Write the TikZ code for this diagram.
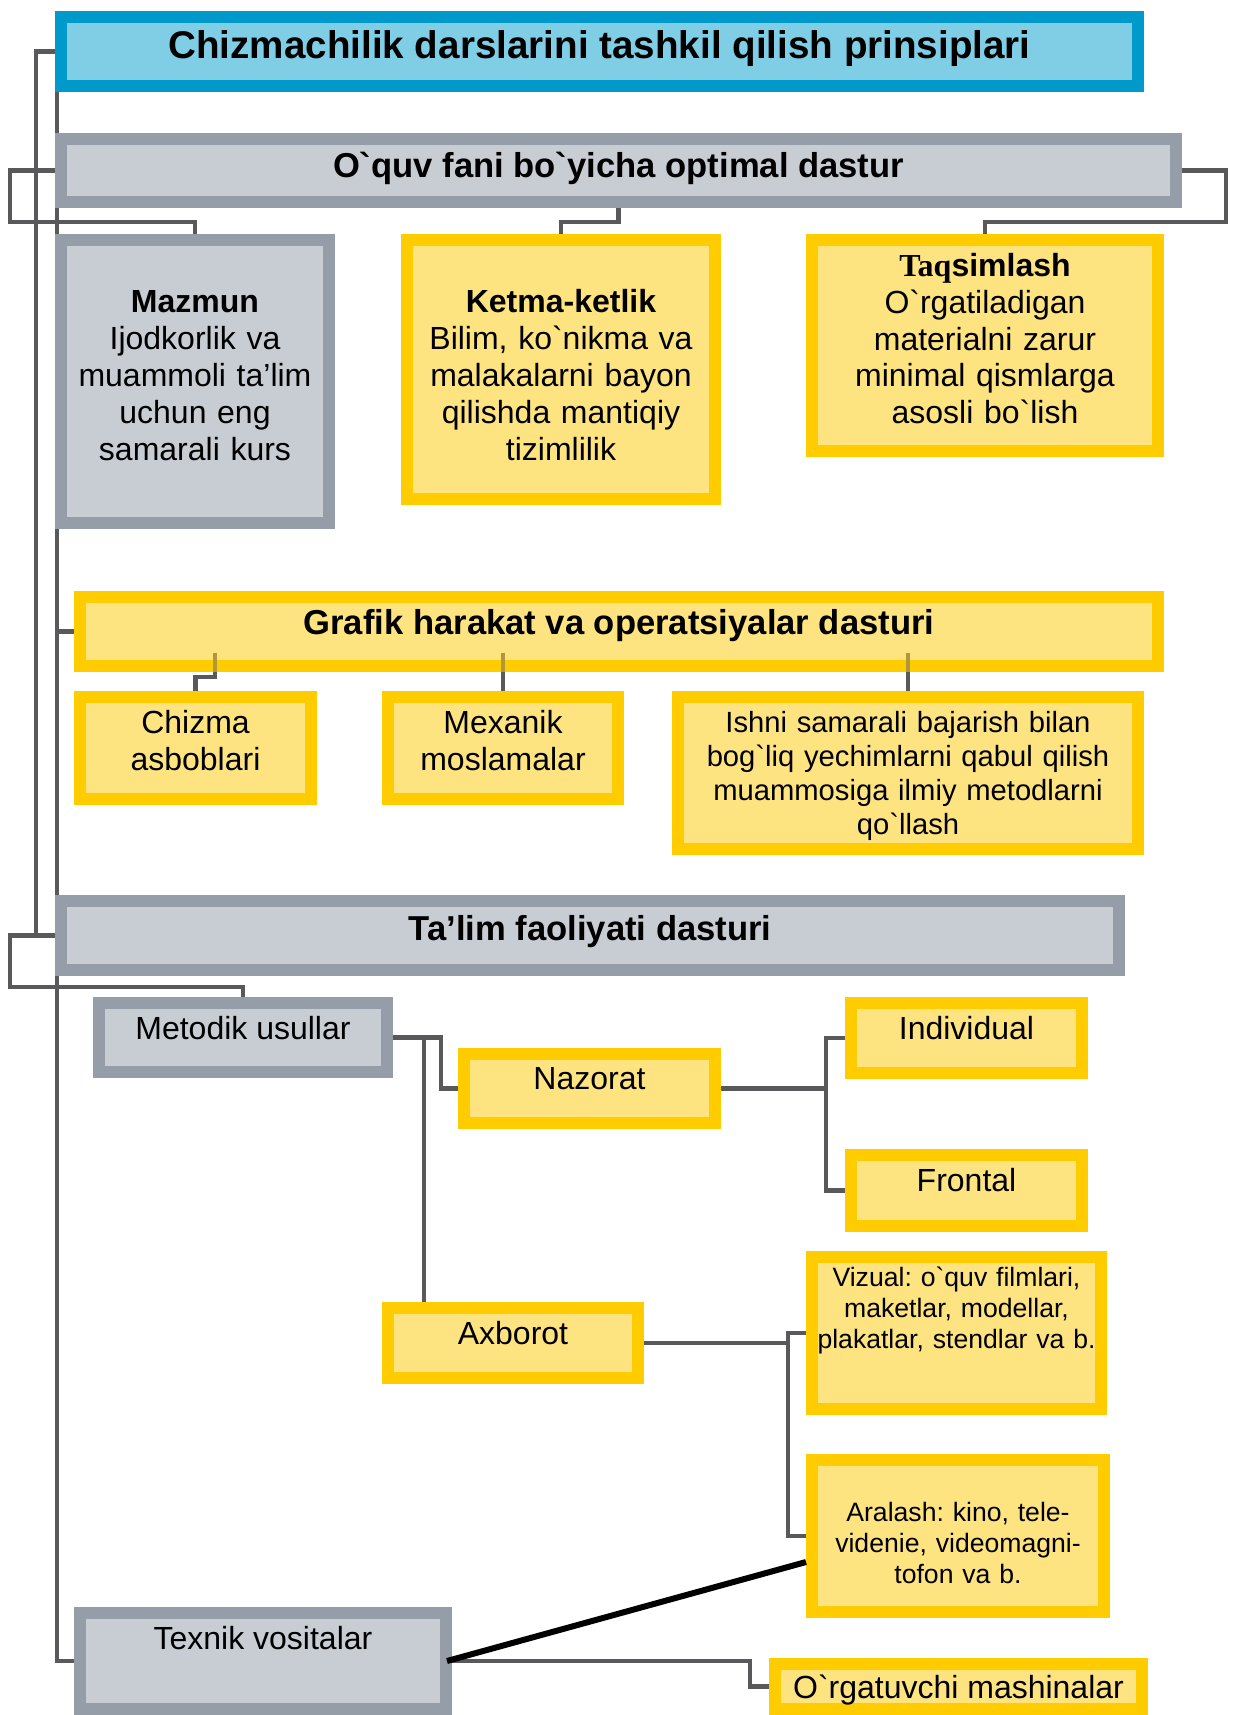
\documentclass[tikz,border=0pt]{standalone}
\usepackage{fontspec}
\setmainfont{Liberation Sans}[Ligatures=TeXOff]
\newfontfamily\serifbold{Liberation Serif}[Ligatures=TeXOff]
\usetikzlibrary{backgrounds}
\frenchspacing

\definecolor{titleblue}{HTML}{0099CC}
\definecolor{titlefill}{HTML}{80CDE6}
\definecolor{boxgrey}{HTML}{959EA8}
\definecolor{greyfill}{HTML}{C8CDD4}
\definecolor{boxyellow}{HTML}{FFCC00}
\definecolor{yellowfill}{HTML}{FEE381}
\definecolor{linegrey}{HTML}{59595B}
\definecolor{stubolive}{HTML}{B09838}

\newcommand{\sizeTitle}{\fontsize{19.3}{22}\selectfont\bfseries}
\newcommand{\sizeHead}{\fontsize{17.3}{20}\selectfont\bfseries}
\newcommand{\sizeBody}{\fontsize{16}{18.4}\selectfont}
\newcommand{\sizeNote}{\fontsize{14.6}{16.9}\selectfont}
\newcommand{\sizeSmall}{\fontsize{13.3}{15.3}\selectfont}

\begin{document}
\begin{tikzpicture}[x=0.5pt, y=-0.5pt,
    box/.style={draw, line width=6pt, inner sep=0pt, align=center},
    bluebox/.style={box, draw=titleblue, fill=titlefill},
    greybox/.style={box, draw=boxgrey, fill=greyfill},
    yellowbox/.style={box, draw=boxyellow, fill=yellowfill},
    link/.style={draw=linegrey, line width=2.4pt},
    stub/.style={draw=stubolive, line width=2.4pt}]
  \useasboundingbox (0,0) rectangle (1237,1715);

  % upper part
  \node[bluebox, font=\sizeTitle, minimum width=538.5pt, minimum height=34.5pt, text height=14pt, text depth=7.5pt] (title) at (599.5,51.5) {Chizmachilik darslarini tashkil qilish prinsiplari};
  \node[greybox, font=\sizeHead, minimum width=557.5pt, minimum height=31.5pt, text height=12.4pt, text depth=5pt] (oquv) at (618.5,170.5) {O`quv fani bo`yicha optimal dastur};
  \node[greybox, font=\sizeBody, text width=134pt, minimum height=141.5pt, text height=11.5pt, text depth=80.1pt] (mazmun) at (195,381.5) {\textbf{Mazmun}\\Ijodkorlik va\\muammoli ta’lim\\uchun eng\\samarali kurs};
  \node[yellowbox, font=\sizeBody, text width=154pt, minimum height=129.5pt, text height=11.5pt, text depth=68.1pt] (ketma) at (561,369.5) {\textbf{Ketma-ketlik}\\Bilim, ko`nikma va\\malakalarni bayon\\qilishda mantiqiy\\tizimlilik};
  \node[yellowbox, font=\sizeBody, text width=173pt, minimum height=105.5pt, text height=11.5pt, text depth=80.6pt] (taqsim) at (985,345.5) {{\serifbold\bfseries Taq}\textbf{simlash}\\O`rgatiladigan\\materialni zarur\\minimal qismlarga\\asosli bo`lish};

  % middle part
  \node[yellowbox, font=\sizeHead, minimum width=539pt, minimum height=34.5pt, text height=12.4pt, text depth=9.5pt] (grafik) at (619,631.5) {Grafik harakat va operatsiyalar dasturi};
  \node[yellowbox, font=\sizeBody, text width=115.5pt, minimum height=51pt, text height=11.5pt, text depth=25.9pt] (chizma) at (195.5,748) {Chizma\\asboblari};
  \node[yellowbox, font=\sizeBody, text width=115pt, minimum height=51pt, text height=11.5pt, text depth=25.9pt] (mexanik) at (503,748) {Mexanik\\moslamalar};
  \node[yellowbox, font=\sizeNote, text width=230pt, minimum height=76pt, text height=10.5pt, text depth=50.7pt] (ishni) at (908,773) {Ishni samarali bajarish bilan\\bog`liq yechimlarni qabul qilish\\muammosiga ilmiy metodlarni\\qo`llash};

  % lower part
  \node[greybox, font=\sizeHead, minimum width=529pt, minimum height=34.5pt, text height=12.4pt, text depth=7.5pt] (talim) at (590,935.5) {Ta’lim faoliyati dasturi};
  \node[greybox, font=\sizeBody, minimum width=144pt, minimum height=34.5pt, text height=11.5pt, text depth=9.5pt] (metodik) at (243,1037.5) {Metodik usullar};
  \node[yellowbox, font=\sizeBody, minimum width=125.5pt, minimum height=34.5pt, text height=11.5pt, text depth=10.5pt] (nazorat) at (589.5,1088.5) {Nazorat};
  \node[yellowbox, font=\sizeBody, minimum width=115.5pt, minimum height=35pt, text height=11.5pt, text depth=10pt] (individual) at (966.5,1038) {Individual};
  \node[yellowbox, font=\sizeBody, minimum width=115.5pt, minimum height=35.5pt, text height=11.5pt, text depth=10.5pt] (frontal) at (966.5,1190.5) {Frontal};
  \node[yellowbox, font=\sizeBody, minimum width=125pt, minimum height=35pt, text height=11.5pt, text depth=10pt] (axborot) at (513,1343) {Axborot};
  \node[yellowbox, font=\sizeSmall, text width=144.5pt, minimum height=76pt, text height=9.5pt, text depth=55.6pt] (vizual) at (956.5,1333) {Vizual: o`quv filmlari,\\maketlar, modellar,\\plakatlar, stendlar va b.};
  \node[yellowbox, font=\sizeSmall, text width=146pt, minimum height=76pt, text height=9.5pt, text depth=23.6pt] (aralash) at (958,1536) {Aralash: kino, tele-\\videnie, videomagni-\\tofon va b.};
  \node[greybox, font=\sizeBody, minimum width=183pt, minimum height=48pt, text height=11.5pt, text depth=23.5pt] (texnik) at (263,1661) {Texnik vositalar};
  \node[yellowbox, font=\sizeBody, minimum width=183.5pt, minimum height=22.5pt, text height=11.5pt, text depth=0pt] (orgatuvchi) at (958.5,1686.5) {O`rgatuvchi mashinalar};

  \coordinate (rail) at ([xshift=1pt]title.south west);
  \coordinate (g1) at (215,653);
  \coordinate (g2) at (503,653);
  \coordinate (g3) at (908,653);

  \begin{pgfonlayer}{background}
    % left rails
    \draw[link] (title.west) -- ++(-19,0) |- (talim.west);
    \draw[link] (rail) |- (grafik.west);
    \draw[link] (rail) |- (texnik.west);
    % optimal dastur
    \draw[link] (oquv.west) -| (10,222) -| (mazmun.north);
    \draw[link] (oquv.south) -- ++(0,14) -| (ketma.north);
    \draw[link] (oquv.east) -| (1226,222) -| (taqsim.north);
    % grafik dastur
    \draw[link] (g1 |- grafik.south) -- ++(0,5) -| (chizma.north);
    \draw[link] (g2 |- grafik.south) -- (mexanik.north);
    \draw[link] (g3 |- grafik.south) -- (ishni.north);
    % faoliyat dasturi
    \draw[link] (talim.west) -| (10,987) -| (metodik.north);
    \draw[link] (metodik.east) -- ++(48,0) |- (nazorat.west);
    \draw[link] (metodik.east) -- ++(31,0) coordinate (m1) -- (m1 |- axborot.north);
    \draw[link] (nazorat.east) -- ++(105,0) coordinate (n1) |- (individual.west) (n1) |- (frontal.west);
    \draw[link] (axborot.east) -- ++(144,0) coordinate (a1) |- (vizual.west) (a1) |- (aralash.west);
    \draw[link] (texnik.east) -- ++(298,0) |- (orgatuvchi.west);
  \end{pgfonlayer}

  \draw[stub] (g1) -- (g1 |- grafik.south);
  \draw[stub] (g2) -- (g2 |- grafik.south);
  \draw[stub] (g3) -- (g3 |- grafik.south);
  \draw[line width=3pt] ([xshift=-2.5pt]texnik.east) -- ([yshift=-13pt]aralash.west);
\end{tikzpicture}
\end{document}
